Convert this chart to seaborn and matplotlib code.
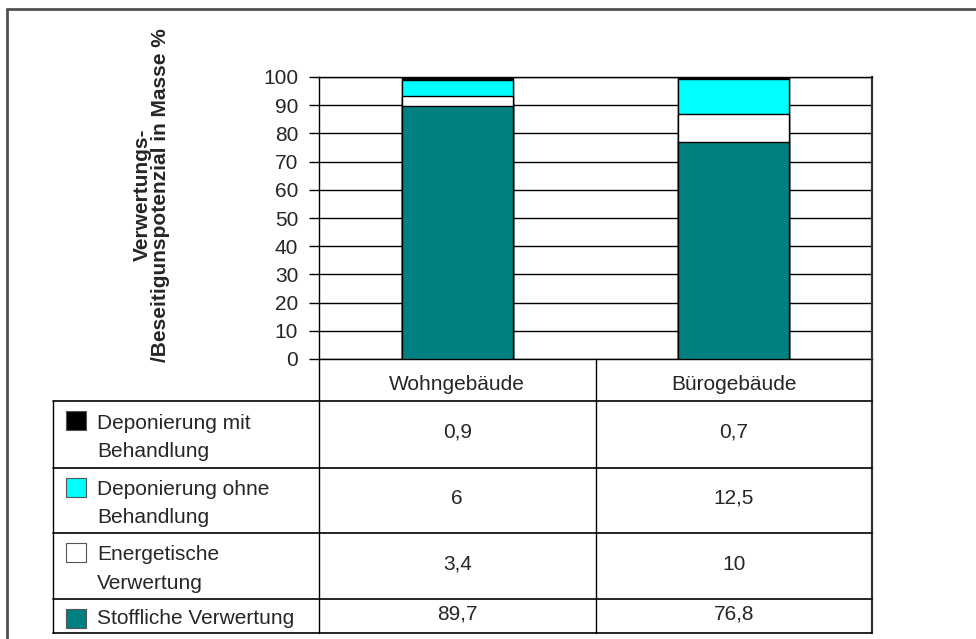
import numpy as np
import pandas as pd
import matplotlib.pyplot as plt
import seaborn as sns
from matplotlib.patches import Rectangle

categories = ['Wohngebäude', 'Bürogebäude']
series = ['Deponierung mit\nBehandlung', 'Deponierung ohne\nBehandlung',
          'Energetische\nVerwertung', 'Stoffliche Verwertung']
dep_mit = [0.9, 0.7]
dep_ohne = [6, 12.5]
energetisch = [3.4, 10]
stofflich = [89.7, 76.8]
colors = ['#000000', '#00FFFF', '#FFFFFF', '#008080']
yticks = list(range(0, 101, 10))
ylabel = 'Verwertungs-\n/Beseitigunspotenzial in Masse %'

sns.set_style('white')
plt.rcParams['font.family'] = ['Liberation Sans', 'DejaVu Sans']

W, H = 976, 639
fig = plt.figure(figsize=(W / 100, H / 100), dpi=100)

# layout in pixels
AX_L, AX_R, AX_T, AX_B = 319, 872, 77, 359
TAB_L = 53
row_y = [401, 468, 533, 599, 633]

ax = fig.add_axes([AX_L / W, 1 - AX_B / H, (AX_R - AX_L) / W, (AX_B - AX_T) / H])

# stacked bars: draw cumulative totals from the top segment down
stack = [stofflich, energetisch, dep_ohne, dep_mit]  # bottom -> top
cum = np.cumsum(np.array(stack), axis=0)
for i in range(len(stack) - 1, -1, -1):
    df = pd.DataFrame({'cat': categories, 'val': cum[i]})
    sns.barplot(data=df, x='cat', y='val', color=colors[len(stack) - 1 - i],
                saturation=1, width=0.4, edgecolor='black', linewidth=1,
                ax=ax, zorder=3)

ax.set_xlim(-0.5, len(categories) - 0.5)
ax.set_ylim(0, 100)
ax.set_yticks(yticks)
ax.yaxis.grid(True, color='black', lw=1)
ax.set_axisbelow(True)
ax.set_xticks([])
ax.set_xlabel('')
ax.set_ylabel('')
ax.tick_params(axis='y', which='both', left=True, length=7, width=1,
               color='black', pad=8, labelsize=15)
for s in ax.spines.values():
    s.set_visible(True)
    s.set_color('black')
    s.set_linewidth(1)
ax.spines['right'].set_color('#333333')
ax.spines['right'].set_linewidth(1.6)

fig.text(151 / W, 1 - 195 / H, ylabel, rotation=90, ha='center', va='center',
         multialignment='center', fontsize=15, fontweight='bold', linespacing=0.95)

# data table below the chart
tab = fig.add_axes([0, 0, 1, 1], facecolor='none')
tab.set_xlim(0, W)
tab.set_ylim(H, 0)
tab.axis('off')

col_x = [AX_L + (AX_R - AX_L) * (k + 0.5) / len(categories) for k in range(len(categories))]
div_x = AX_L + (AX_R - AX_L) / 2

lc = 'black'
tab.plot([AX_L, AX_L], [AX_B, row_y[-1]], color=lc, lw=1)
tab.plot([div_x, div_x], [AX_B, row_y[-1]], color=lc, lw=1)
tab.plot([AX_R, AX_R], [AX_B, row_y[-1]], color='#333333', lw=1.6)
tab.plot([TAB_L, TAB_L], [row_y[0], row_y[-1]], color=lc, lw=1)
for y in row_y:
    tab.plot([TAB_L, AX_R], [y, y], color=lc, lw=1.2)

for cx, c in zip(col_x, categories):
    tab.text(cx, 385, c, ha='center', va='center', fontsize=15)

table_vals = [dep_mit, dep_ohne, energetisch, stofflich]
for r, (name, vals, col) in enumerate(zip(series, table_vals, colors)):
    top, bot = row_y[r], row_y[r + 1]
    tab.add_patch(Rectangle((66, top + 10), 20, 19, facecolor=col,
                            edgecolor='#555555', lw=0.8))
    tab.text(97, (top + bot) / 2 + 3, name, ha='left', va='center',
             fontsize=15, linespacing=1.65)
    for cx, v in zip(col_x, vals):
        tab.text(cx, (top + bot) / 2 - 2, f'{v:g}'.replace('.', ','),
                 ha='center', va='center', fontsize=15)

# outer frame (left and top edge)
tab.plot([7, 7], [9, H], color='#505050', lw=2, clip_on=False)
tab.plot([7, W], [9, 9], color='#505050', lw=2, clip_on=False)

fig.savefig('out.png', dpi=100)
